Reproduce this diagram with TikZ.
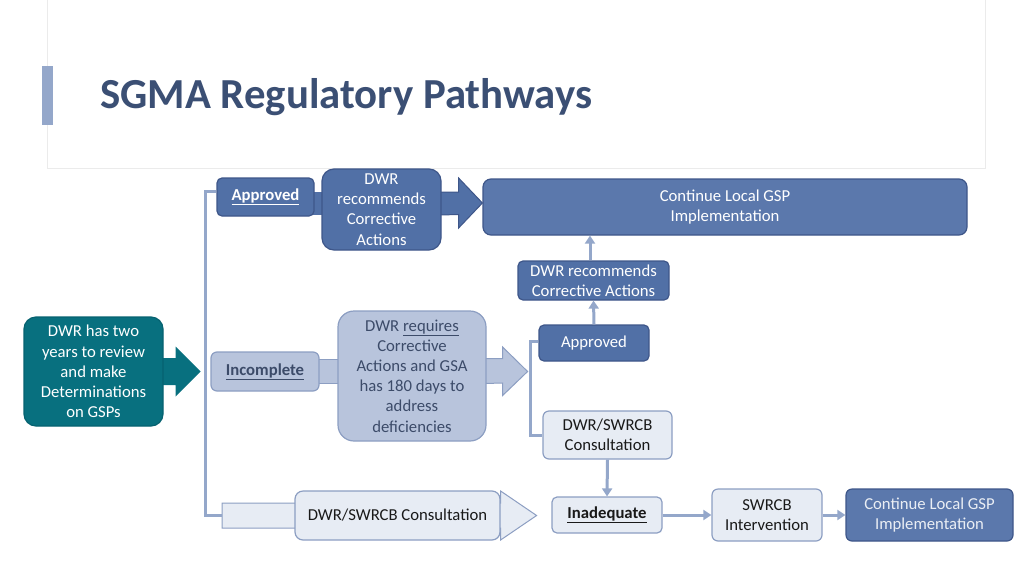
\documentclass[tikz,border=0pt]{standalone}
\usepackage{fontspec}
\setmainfont{Carlito}
\usetikzlibrary{arrows.meta,calc,backgrounds}
\definecolor{titleblue}{HTML}{3B4F74}
\definecolor{darkbox}{HTML}{5170A6}
\definecolor{darkedge}{HTML}{3E5689}
\definecolor{midbox}{HTML}{5B78AC}
\definecolor{lightbox}{HTML}{B8C4DC}
\definecolor{lightedge}{HTML}{8C9EC2}
\definecolor{palebox}{HTML}{E7ECF4}
\definecolor{linkblue}{HTML}{94A7CA}
\definecolor{tealbox}{HTML}{08707F}
\definecolor{tealedge}{HTML}{066270}
\definecolor{slate}{HTML}{3C4B69}

\begin{document}
\begin{tikzpicture}[x=1pt,y=-1pt,
  every node/.style={font=\fontsize{16.7}{20.2}\selectfont,align=center,inner sep=2pt},
  darkstep/.style={draw=darkedge,fill=darkbox,text=white,line width=1.2pt},
  lightstep/.style={draw=lightedge,fill=lightbox,text=slate,line width=1.2pt},
  palestep/.style={draw=lightedge,fill=palebox,text=black!90,line width=1.2pt},
  link/.style={linkblue,line width=3pt},
  linkarrow/.style={link,-{Triangle[width=10pt,length=8pt]}}]
  \useasboundingbox (0,0) rectangle (1024,576);

  % header
  \draw[black!8,fill=white] (47,-2) rectangle (985,168);
  \fill[linkblue] (42,66) rectangle (53,125);
  \node[anchor=base west,inner sep=0,text=titleblue,
        font=\fontsize{42.8}{50}\selectfont\bfseries] (title) at (100,108) {SGMA Regulatory Pathways};

  % boxes
  \node[fill=tealbox,draw=tealedge,text=white,rounded corners=12pt,line width=1.2pt,
        minimum width=139,minimum height=109] (review) at (93.5,371.5)
        {DWR has two\\years to review\\and make\\Determinations\\on GSPs};

  \node[darkstep,rounded corners=5pt,minimum width=97,minimum height=38] (appr) at (265.5,197)
        {\textbf{\underline{Approved}}};
  \node[darkstep,rounded corners=12pt,minimum width=119,minimum height=81] (recA) at (381.5,209.5)
        {DWR\\recommends\\Corrective\\Actions};
  \node[darkstep,fill=midbox,rounded corners=8pt,minimum width=484,minimum height=56] (contA) at (725,207)
        {Continue Local GSP\\Implementation};
  \node[darkstep,rounded corners=5pt,minimum width=151,minimum height=39] (recB) at (593.5,280.5)
        {DWR recommends\\Corrective Actions};
  \node[darkstep,rounded corners=5pt,minimum width=110,minimum height=36] (apprB) at (594,343)
        {Approved};

  \node[lightstep,rounded corners=6pt,minimum width=108,minimum height=39] (incomp) at (265,371.5)
        {\textbf{\underline{Incomplete}}};
  \node[lightstep,rounded corners=16pt,minimum width=148,minimum height=130] (require) at (412,376)
        {DWR \underline{requires}\\Corrective\\Actions and GSA\\has 180 days to\\address\\deficiencies};

  \node[palestep,rounded corners=6pt,minimum width=129,minimum height=48] (consA) at (607.5,435)
        {DWR/SWRCB\\Consultation};
  \node[palestep,rounded corners=8pt,minimum width=205,minimum height=49] (consB) at (397.5,515.5)
        {DWR/SWRCB Consultation};
  \node[palestep,rounded corners=5pt,minimum width=110,minimum height=36] (inad) at (607,515)
        {\textbf{\underline{Inadequate}}};
  \node[palestep,rounded corners=6pt,minimum width=110,minimum height=52] (swrcb) at (767,515)
        {SWRCB\\Intervention};
  \node[darkstep,fill=midbox,text=white!88!darkbox,rounded corners=6pt,minimum width=167,minimum height=52] (contB) at (929.5,515)
        {Continue Local GSP\\Implementation};

  \coordinate (split) at (205,371.5);
  \coordinate (bstart) at (222,515.5);
  \coordinate (upA) at ($(recB.north)+(-3.5,0)$);

  \begin{scope}[on background layer]
    % block arrows
    \fill[tealbox] ($(review.east)+(-2,-13.5)$) -- ++(14,0) -- ++(0,-11.5)
      -- ($(review.east)+(37,0)$) -- ($(review.east)+(12,25)$) -- ++(0,-11.5)
      -- ($(review.east)+(-2,13.5)$) -- cycle;
    \fill[darkbox] ($(appr.east)+(-2,-5)$) rectangle ($(recA.west)+(2,5.5)$);
    \draw[darkedge,fill=darkbox,line width=1pt] ($(recA.east)+(-2,-17.5)$) -- ++(19,0) -- ++(0,-14)
      -- ($(contA.west)+(0,-4)$) -- ($(recA.east)+(17,18.5)$) -- ++(0,-13.5)
      -- ($(recA.east)+(-2,5.5)$) -- cycle;
    \draw[lightedge,fill=lightbox,line width=1pt] ($(incomp.east)+(-2,-12.5)$) rectangle ($(require.west)+(2,7.5)$);
    \draw[lightedge,fill=lightbox,line width=1pt] ($(require.east)+(-2,-17.5)$) -- ++(18,0) -- ++(0,-11.5)
      -- ($(require.east)+(41,-4.5)$) -- ($(require.east)+(16,19.5)$) -- ++(0,-12.5)
      -- ($(require.east)+(-2,7.5)$) -- cycle;
    \draw[lightedge,fill=palebox,line width=1pt] ($(bstart)+(0,-12.5)$) -- ($(consB.east)+(0,-12.5)$)
      -- ($(consB.east)+(0,-24.5)$) -- ($(consB.east)+(36,0)$) -- ($(consB.east)+(0,24.5)$)
      -- ($(consB.east)+(0,12.5)$) -- ($(bstart)+(0,12.5)$) -- cycle;
  \end{scope}

  % connectors
  \draw[link] ($(appr.west)+(0,-6)$) -| (split) |- (bstart);
  \draw[link] ($(apprB.west)+(0,-2)$) -| ($(consA.west)+(-12,0)$) -- (consA.west);
  \draw[linkarrow] (upA) -- (upA |- contA.south);
  \draw[linkarrow] (apprB.north) -- (recB.south);
  \draw[linkarrow] (consA.south) -- (inad.north);
  \draw[linkarrow] (inad.east) -- (swrcb.west);
  \draw[linkarrow] (swrcb.east) -- (contB.west);
\end{tikzpicture}
\end{document}
